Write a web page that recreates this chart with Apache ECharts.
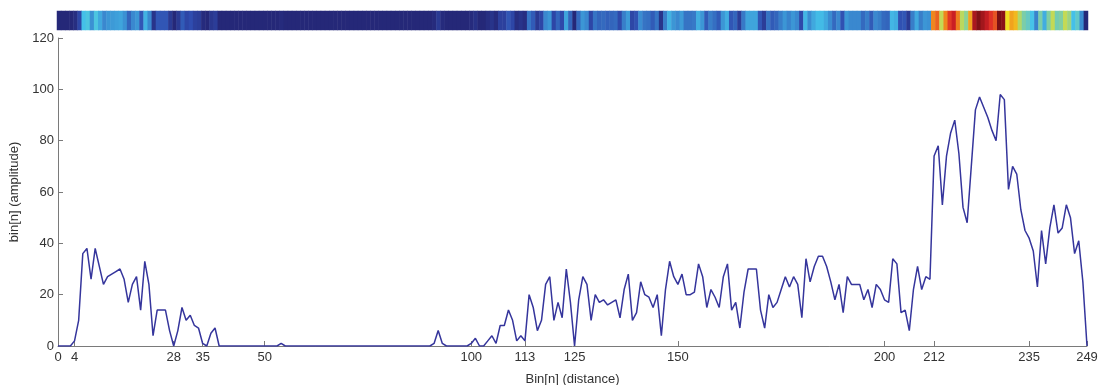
<!DOCTYPE html>
<html>
<head>
<meta charset="utf-8">
<script src="https://cdn.jsdelivr.net/npm/echarts@6/dist/echarts.min.js"></script>
<style>
  html, body { margin: 0; padding: 0; background: #fff; }
  #chart { width: 1101px; height: 385px; }
</style>
</head>
<body>
<div id="chart"></div>
<script>
// amplitude per bin (bins 0..249)
const amplitude = [
  0, 0, 0, 0, 2, 10, 36, 38, 26, 38,
  31, 24, 27, 28, 29, 30, 26, 17, 24, 27,
  14, 33, 24, 4, 14, 14, 14, 6, 0, 6,
  15, 10, 12, 8, 7, 1, 0, 5, 7, 0,
  0, 0, 0, 0, 0, 0, 0, 0, 0, 0,
  0, 0, 0, 0, 1, 0, 0, 0, 0, 0,
  0, 0, 0, 0, 0, 0, 0, 0, 0, 0,
  0, 0, 0, 0, 0, 0, 0, 0, 0, 0,
  0, 0, 0, 0, 0, 0, 0, 0, 0, 0,
  0, 1, 6, 1, 0, 0, 0, 0, 0, 0,
  1, 3, 0, 0, 2, 4, 1, 8, 8, 14,
  10, 2, 4, 2, 20, 15, 6, 10, 24, 27,
  10, 17, 11, 30, 17, 0, 18, 27, 24, 10,
  20, 17, 18, 16, 17, 18, 11, 22, 28, 10,
  13, 25, 20, 19, 15, 20, 4, 22, 33, 27,
  24, 28, 20, 20, 21, 32, 27, 15, 22, 19,
  15, 27, 32, 14, 17, 7, 21, 30, 30, 30,
  14, 7, 20, 15, 17, 22, 27, 23, 27, 24,
  11, 34, 25, 31, 35, 35, 31, 25, 18, 24,
  13, 27, 24, 24, 24, 18, 22, 15, 24, 22,
  18, 17, 34, 32, 13, 14, 6, 22, 31, 22,
  27, 26, 74, 78, 55, 74, 83, 88, 75, 54,
  48, 70, 92, 97, 93, 89, 84, 80, 98, 96,
  61, 70, 67, 53, 45, 42, 37, 23, 45, 32,
  46, 55, 44, 46, 55, 50, 36, 41, 25, 0
];

const xTicks = [0, 4, 28, 35, 50, 100, 113, 125, 150, 200, 212, 235, 249];

// jet-like colours for the strip on top
const jet = ['#252878', '#2f4db0', '#3a8ad0', '#45c3ea', '#95d28a', '#f2e01f', '#f08a1e', '#dc2228', '#7a0f14'];

const bins = amplitude.map((v, i) => String(i));
const linePoints = amplitude.map((v, i) => [i, v]);
const stripCells = amplitude.map((v, i) => [i, 0, v]);

const font = 'Liberation Sans, Arial, sans-serif';
const axisGray = '#7a7a7a';

const chart = echarts.init(document.getElementById('chart'));
chart.setOption({
  backgroundColor: '#ffffff',
  animation: false,
  textStyle: { fontFamily: font },
  grid: [
    { left: 58, right: 14, top: 38, bottom: 39, outerBoundsMode: 'none', containLabel: false },
    { left: 57, right: 13, top: 11, height: 19, outerBoundsMode: 'none', containLabel: false }
  ],
  xAxis: [
    {
      gridIndex: 0,
      type: 'value',
      min: 0,
      max: 249,
      name: 'Bin[n] (distance)',
      nameLocation: 'middle',
      nameGap: 27,
      nameTextStyle: { color: '#333', fontSize: 13, fontFamily: font },
      axisLine: { show: true, lineStyle: { color: axisGray, width: 1 } },
      axisTick: { show: true, inside: true, length: 5, customValues: xTicks, lineStyle: { color: axisGray } },
      axisLabel: { customValues: xTicks, color: '#333', fontSize: 13, margin: 5, fontFamily: font },
      splitLine: { show: false }
    },
    {
      gridIndex: 1,
      type: 'category',
      data: bins,
      show: false
    }
  ],
  yAxis: [
    {
      gridIndex: 0,
      type: 'value',
      min: 0,
      max: 120,
      interval: 20,
      name: 'bin[n] (amplitude)',
      nameLocation: 'middle',
      nameGap: 35,
      nameRotate: 90,
      nameTextStyle: { color: '#333', fontSize: 13, fontFamily: font },
      axisLine: { show: true, lineStyle: { color: axisGray, width: 1 } },
      axisTick: { show: true, inside: true, length: 5, lineStyle: { color: axisGray } },
      axisLabel: { color: '#333', fontSize: 13, margin: 4, fontFamily: font },
      splitLine: { show: false }
    },
    {
      gridIndex: 1,
      type: 'category',
      data: [''],
      show: false
    }
  ],
  visualMap: {
    show: false,
    seriesIndex: 1,
    min: 0,
    max: 98,
    inRange: { color: jet }
  },
  series: [
    {
      type: 'line',
      xAxisIndex: 0,
      yAxisIndex: 0,
      data: linePoints,
      showSymbol: false,
      lineStyle: { color: '#35359c', width: 1.5 },
      itemStyle: { color: '#35359c' }
    },
    {
      type: 'heatmap',
      xAxisIndex: 1,
      yAxisIndex: 1,
      data: stripCells,
      itemStyle: { borderWidth: 0 }
    }
  ]
});
</script>
</body>
</html>
